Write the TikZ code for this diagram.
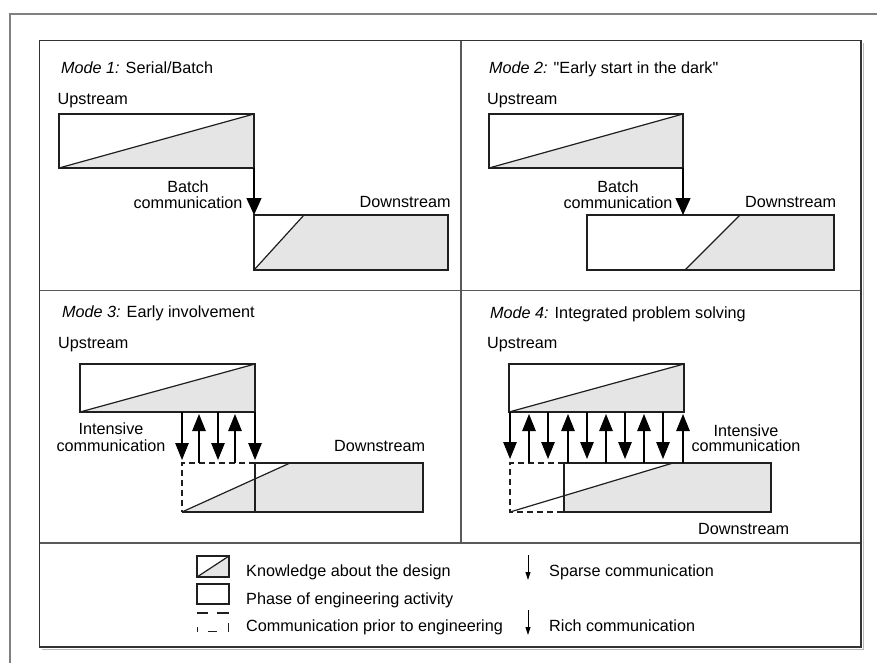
\documentclass[tikz,border=0pt]{standalone}
\usepackage{fontspec}
\setmainfont{Liberation Sans}[Ligatures=TeXOff]
\usetikzlibrary{arrows.meta}
\begin{document}
\begin{tikzpicture}[x=1pt,y=-1pt,
  lbl/.style={inner sep=0pt, anchor=base west, font=\fontsize{16.2}{19}\selectfont},
  clbl/.style={inner sep=0pt, anchor=base, font=\fontsize{16.2}{19}\selectfont},
  outline/.style={draw=black!88, line width=1.2pt},
  know/.style={fill=gray!20},
  dashline/.style={draw=black!88, line width=1.2pt, dash pattern=on 6pt off 4pt},
  bigarrow/.style={draw=black, line width=1.1pt, -{Triangle[length=17pt,width=15pt]}},
  midarrow/.style={draw=black, line width=1.1pt, -{Triangle[length=17pt,width=13.5pt]}},
  tinyarrow/.style={draw=black, line width=1pt, -{Triangle[length=8pt,width=5pt]}},
  frame/.style={draw=black!80, line width=1.5pt},
  divider/.style={draw=black!65, line width=1.5pt},
]
\useasboundingbox (0,0) rectangle (877,663);
\fill[white] (0,0) rectangle (877,663);

% page border
\draw[draw=gray, line width=2pt] (9.5,663) -- (9.5,14) -- (877,14);

% ---------------- Mode 1 ----------------
\fill[know] (59,168) -- (254,114) -- (254,168) -- cycle;
\draw[outline] (59,114) rectangle (254,168);
\draw[outline] (59,168) -- (254,114);
\fill[know] (254,270) -- (304,215) -- (448,215) -- (448,270) -- cycle;
\draw[outline] (254,215) rectangle (448,270);
\draw[outline] (254,270) -- (304,215);
\coordinate (m1from) at (254,168);
\coordinate (m1to) at (254,215);
\draw[bigarrow] (m1from) -- (m1to);
\node[lbl] (m1title) at (61,73.5) {\textit{Mode 1:} Serial/Batch};
\node[lbl] (m1up) at (57.5,104.3) {Upstream};
\node[clbl] (m1b1) at (188,192) {Batch};
\node[clbl] (m1b2) at (188,208.3) {communication};
\node[lbl] (m1down) at (359.5,207.5) {Downstream};

% ---------------- Mode 2 ----------------
\fill[know] (489,168) -- (683,114) -- (683,168) -- cycle;
\draw[outline] (489,114) rectangle (683,168);
\draw[outline] (489,168) -- (683,114);
\fill[know] (685,270) -- (740,215) -- (834,215) -- (834,270) -- cycle;
\draw[outline] (587,215) rectangle (834,270);
\draw[outline] (685,270) -- (740,215);
\coordinate (m2from) at (683,168);
\coordinate (m2to) at (683,215);
\draw[bigarrow] (m2from) -- (m2to);
\node[lbl] (m2title) at (489,73.5) {\textit{Mode 2:} "Early start in the dark"};
\node[lbl] (m2up) at (487,104.3) {Upstream};
\node[clbl] (m2b1) at (618,192) {Batch};
\node[clbl] (m2b2) at (618,208.3) {communication};
\node[lbl] (m2down) at (745,207.5) {Downstream};

% ---------------- Mode 3 ----------------
\fill[know] (80,412) -- (255,364) -- (255,412) -- cycle;
\draw[outline] (80,364) rectangle (255,412);
\draw[outline] (80,412) -- (255,364);
\fill[know] (182,512) -- (290,463) -- (423,463) -- (423,512) -- cycle;
\draw[outline] (255,463) rectangle (423,512);
\draw[outline] (182,512) -- (255,512);
\draw[outline] (182,512) -- (290,463);
\draw[dashline] (255,463) -- (182,463) -- (182,512);
\foreach \x in {182,218,255} {
  \coordinate (m3d\x a) at (\x,412);
  \coordinate (m3d\x b) at (\x,460);
  \draw[midarrow] (m3d\x a) -- (m3d\x b);
}
\foreach \x in {199,235} {
  \coordinate (m3u\x a) at (\x,463);
  \coordinate (m3u\x b) at (\x,414);
  \draw[midarrow] (m3u\x a) -- (m3u\x b);
}
\node[lbl] (m3title) at (62,317.7) {\textit{Mode 3:} Early involvement};
\node[lbl] (m3up) at (58,348.3) {Upstream};
\node[clbl] (m3i1) at (111,434.3) {Intensive};
\node[clbl] (m3i2) at (111,451) {communication};
\node[lbl] (m3down) at (334,451) {Downstream};

% ---------------- Mode 4 ----------------
\fill[know] (509,412) -- (684,364) -- (684,412) -- cycle;
\draw[outline] (509,364) rectangle (684,412);
\draw[outline] (509,412) -- (684,364);
\begin{scope}
  \clip (564,463) rectangle (771,512);
  \fill[know] (510,512) -- (673,463) -- (771,463) -- (771,512) -- cycle;
\end{scope}
\draw[outline] (564,463) rectangle (771,512);
\draw[outline] (510,512) -- (673,463);
\draw[dashline] (564,463) -- (510,463) -- (510,512) -- (564,512);
\foreach \x in {510,548,587,625,663} {
  \coordinate (m4d\x a) at (\x,412);
  \coordinate (m4d\x b) at (\x,459);
  \draw[midarrow] (m4d\x a) -- (m4d\x b);
}
\foreach \x in {529,568,606,644,683} {
  \coordinate (m4u\x a) at (\x,463);
  \coordinate (m4u\x b) at (\x,414);
  \draw[midarrow] (m4u\x a) -- (m4u\x b);
}
\node[lbl] (m4title) at (490,318) {\textit{Mode 4:} Integrated problem solving};
\node[lbl] (m4up) at (487,348.3) {Upstream};
\node[clbl] (m4i1) at (746,436) {Intensive};
\node[clbl] (m4i2) at (746,451.5) {communication};
\node[lbl] (m4down) at (698,534) {Downstream};

% ---------------- Legend ----------------
\fill[know] (197,577) -- (229,556) -- (229,577) -- cycle;
\draw[outline] (197,556) rectangle (229,577);
\draw[outline] (197,577) -- (229,556);
\draw[outline] (197,584) rectangle (229,604);
\draw[outline] (197,613) -- (208,613);
\draw[outline] (217,613) -- (229,613);
\draw[outline] (208,631.5) -- (217,631.5);
\draw[outline] (197.5,627) -- (197.5,632);
\draw[outline] (228.5,623) -- (228.5,632);
\coordinate (sparseA) at (528,555);
\coordinate (sparseB) at (528,580);
\draw[tinyarrow] (sparseA) -- (sparseB);
\coordinate (richA) at (528,610);
\coordinate (richB) at (528,635);
\draw[tinyarrow] (richA) -- (richB);
\node[lbl] (lk) at (246,576) {Knowledge about the design};
\node[lbl] (lp) at (246,604) {Phase of engineering activity};
\node[lbl] (lc) at (246,631.7) {Communication prior to engineering};
\node[lbl] (ls) at (549,576) {Sparse communication};
\node[lbl] (lr) at (549,631.7) {Rich communication};

% ---------------- Frames ----------------
\draw[draw=gray!55, line width=1pt] (863,43) -- (863,649) -- (42,649);
\draw[divider] (461,40.5) -- (461,543);
\draw[divider] (39.5,290.5) -- (861,290.5);
\draw[divider] (39.5,543) -- (861,543);
\draw[frame] (39.5,40.5) rectangle (861,647);
\end{tikzpicture}
\end{document}
